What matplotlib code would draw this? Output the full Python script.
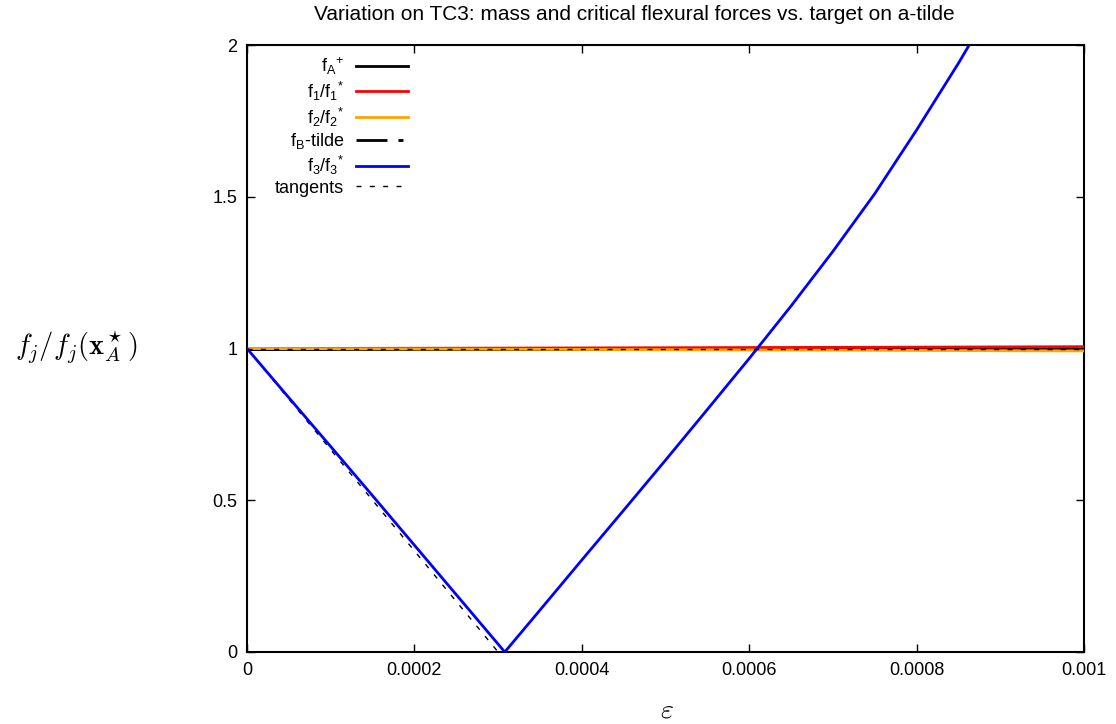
import numpy as np
import matplotlib
matplotlib.use("Agg")
import matplotlib.pyplot as plt

plt.rcParams['font.family'] = ['Liberation Sans', 'DejaVu Sans']
plt.rcParams['mathtext.fontset'] = 'custom'
plt.rcParams['mathtext.rm'] = 'Liberation Sans'
plt.rcParams['mathtext.it'] = 'Liberation Sans:italic'
plt.rcParams['mathtext.bf'] = 'Liberation Sans:bold'
plt.rcParams['lines.scale_dashes'] = False

# ---- data ----
eps_flat = [0.0, 0.00025, 0.0005, 0.00075, 0.001]
fA_plus = [1.0, 1.0, 1.0, 1.0, 1.0]
f1_ratio = [1.0, 1.001, 1.0025, 1.004, 1.006]
f2_ratio = [1.0, 0.998, 0.996, 0.994, 0.992]
fB_tilde = [1.0, 1.0, 1.0, 1.0, 1.0]

eps_f3 = [0.0, 0.00005, 0.0001, 0.00015, 0.0002, 0.00025, 0.000308,
          0.00035, 0.0004, 0.00045, 0.0005, 0.00055, 0.0006, 0.00065,
          0.0007, 0.00075, 0.0008, 0.00085, 0.00088]
f3_ratio = [1.0, 0.838, 0.677, 0.515, 0.352, 0.189, 0.0,
            0.138, 0.303, 0.467, 0.632, 0.799, 0.967, 1.14,
            1.32, 1.51, 1.72, 1.94, 2.08]

tan_flat_x = [0.0, 0.001]
tan_flat_y = [1.0, 1.0]
tan_f3_x = [0.0, 0.0003]
tan_f3_y = [1.0, 0.0]

title = "Variation on TC3: mass and critical flexural forces vs. target on a-tilde"
xticks = [0, 0.0002, 0.0004, 0.0006, 0.0008, 0.001]
xticklabels = ["0", "0.0002", "0.0004", "0.0006", "0.0008", "0.001"]
yticks = [0, 0.5, 1, 1.5, 2]
yticklabels = ["0", "0.5", "1", "1.5", "2"]

# ---- figure ----
fig = plt.figure(figsize=(11.16, 7.24), dpi=100)
ax = fig.add_axes([247/1116, 1-652/724, (1084-247)/1116, (652-45)/724])

lw = 2.0
ax.plot(eps_flat, fA_plus, color='black', lw=lw, label=r'f$_\mathrm{A}$$^\mathrm{+}$', zorder=2)
ax.plot(eps_flat, f1_ratio, color='#ff0000', lw=lw, label=r'f$_\mathrm{1}$/f$_\mathrm{1}$$^\mathrm{*}$', zorder=3)
ax.plot(eps_flat, fB_tilde, color='black', lw=lw, dashes=(22.3, 7.9, 3.6, 7.9),
        label=r'f$_\mathrm{B}$-tilde', zorder=1)
ax.plot(eps_flat, f2_ratio, color='#ffa500', lw=lw, label=r'f$_\mathrm{2}$/f$_\mathrm{2}$$^\mathrm{*}$', zorder=4)
ax.plot(eps_f3, f3_ratio, color='#0000ff', lw=lw, label=r'f$_\mathrm{3}$/f$_\mathrm{3}$$^\mathrm{*}$', zorder=6)
ax.plot(tan_flat_x, tan_flat_y, color='black', lw=1.0, dashes=(3.6, 6.0), label='tangents', zorder=7)
ax.plot(tan_f3_x, tan_f3_y, color='black', lw=1.0, dashes=(3.6, 6.0), zorder=5)

ax.set_xlim(0, 0.001)
ax.set_ylim(0, 2)
ax.set_xticks(xticks)
ax.set_xticklabels(xticklabels)
ax.set_yticks(yticks)
ax.set_yticklabels(yticklabels)
ax.tick_params(direction='in', top=True, right=True, length=6, width=1, labelsize=13, pad=7)
for s in ax.spines.values():
    s.set_linewidth(1.5)

fig.text(634/1116, 1-14/724, title, fontsize=15, ha='center', va='center')
fig.text(667/1116, 1-711/724, r'$\varepsilon$', fontsize=20, ha='center', va='center', math_fontfamily='cm')
fig.text(15/1116, 1-348/724, r'$f_j/f_j(\mathbf{x}_A^\star)$', fontsize=20.5, ha='left', va='center', math_fontfamily='cm')

handles, labels = ax.get_legend_handles_labels()
order = [0, 1, 3, 2, 4, 5]
leg = ax.legend([handles[i] for i in order], [labels[i] for i in order],
                loc='upper left', bbox_to_anchor=(0.025, 0.995), frameon=False,
                markerfirst=False, fontsize=13, handlelength=2.9,
                labelspacing=0.15, handletextpad=0.65, borderaxespad=0.0)

fig.savefig('out.png', dpi=100)
